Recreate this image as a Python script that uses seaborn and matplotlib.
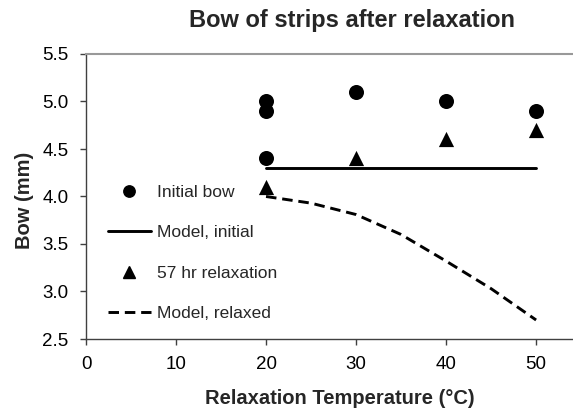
import matplotlib
matplotlib.use("Agg")
import matplotlib.pyplot as plt
from matplotlib.lines import Line2D
import seaborn as sns
import pandas as pd

# ---- data ----
initial_temp = [20, 20, 20, 30, 40, 50]
initial_bow = [5.0, 4.9, 4.4, 5.1, 5.0, 4.9]
relax_temp = [20, 30, 40, 50]
relax_bow = [4.1, 4.4, 4.6, 4.7]
model_init_temp = [20, 50]
model_init_bow = [4.3, 4.3]
model_relax_temp = [20, 25, 30, 35, 40, 45, 50]
model_relax_bow = [4.0, 3.93, 3.81, 3.6, 3.32, 3.03, 2.7]
x_ticks = [0, 10, 20, 30, 40, 50]
y_ticks = [2.5, 3.0, 3.5, 4.0, 4.5, 5.0, 5.5]
labels = ["Initial bow", "Model, initial", "57 hr relaxation", "Model, relaxed"]

sns.set_style("ticks")
plt.rcParams["font.family"] = ["Liberation Sans", "DejaVu Sans"]

W, H = 573, 411
fig = plt.figure(figsize=(W / 100, H / 100), dpi=100)
ax = fig.add_axes([86 / W, 1 - 339 / H, 1 - 86 / W, (339 - 54) / H])

df_init = pd.DataFrame({"t": initial_temp, "b": initial_bow})
df_rel = pd.DataFrame({"t": relax_temp, "b": relax_bow})
df_mi = pd.DataFrame({"t": model_init_temp, "b": model_init_bow})
df_mr = pd.DataFrame({"t": model_relax_temp, "b": model_relax_bow})

lw = 2.1
dash = (3.6, 2.0)
sns.lineplot(data=df_mi, x="t", y="b", ax=ax, color="black", linewidth=lw, zorder=2)
sns.lineplot(data=df_mr, x="t", y="b", ax=ax, color="black", linewidth=lw,
             dashes=False, zorder=2)
ax.lines[-1].set_dashes(dash)
sns.scatterplot(data=df_init, x="t", y="b", ax=ax, color="black", marker="o",
                s=117, edgecolor="black", linewidth=0, zorder=3)
sns.scatterplot(data=df_rel, x="t", y="b", ax=ax, color="black", marker="^",
                s=120, edgecolor="black", linewidth=0, zorder=3)

ax.set_xlim(0, 54.1)
ax.set_ylim(2.5, 5.5)
ax.set_xticks(x_ticks)
ax.set_yticks(y_ticks)
ax.set_yticklabels([f"{v:.1f}" for v in y_ticks])
ax.set_xticklabels([str(v) for v in x_ticks])
ax.tick_params(axis="both", direction="out", length=4.5, width=1.0,
               color="#404040", labelsize=13.5, pad=8, labelcolor="black")

for s in ["left", "bottom"]:
    ax.spines[s].set_color("#404040")
    ax.spines[s].set_linewidth(1.0)
ax.spines["right"].set_visible(False)
ax.spines["top"].set_visible(True)
ax.spines["top"].set_color("#999999")
ax.spines["top"].set_linewidth(1.5)

ax.set_xlabel("Relaxation Temperature (°C)", fontsize=14.5, fontweight="bold")
ax.set_ylabel("Bow (mm)", fontsize=14.5, fontweight="bold")
ax.xaxis.set_label_coords((340 - 86) / (W - 86), -(398 - 339) / 285)
ax.xaxis.label.set_va("center")
ax.yaxis.set_label_coords(-(86 - 24) / (W - 86), (339 - 200) / 285)
ax.yaxis.label.set_va("center")

fig.text(352 / W, 1 - 20 / H, "Bow of strips after relaxation", fontsize=17,
         fontweight="bold", ha="center", va="center")

handles = [
    Line2D([], [], color="black", marker="o", linestyle="none", markersize=8.2),
    Line2D([], [], color="black", linewidth=lw),
    Line2D([], [], color="black", marker="^", linestyle="none", markersize=8.5),
    Line2D([], [], color="black", linewidth=lw, dashes=dash),
]
ax.legend(handles, labels, loc="center left",
          bbox_to_anchor=(108 / W, 1 - 253 / H), bbox_transform=fig.transFigure,
          frameon=False, fontsize=12.5, handlelength=2.47, handletextpad=0.35,
          labelspacing=1.45, borderpad=0, borderaxespad=0)

fig.savefig("out.png", dpi=100)
